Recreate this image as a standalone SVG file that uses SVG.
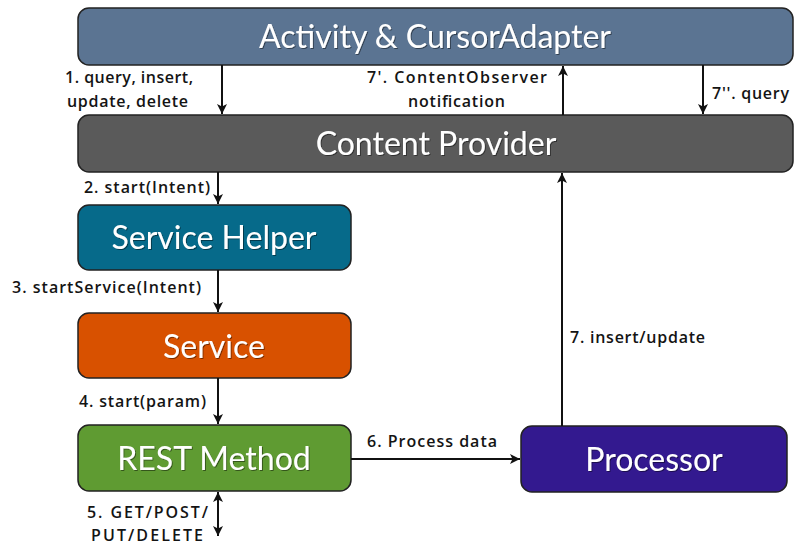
<svg xmlns="http://www.w3.org/2000/svg" width="795" height="547" viewBox="0 0 795 547">
<style>
.box{stroke:#222;stroke-width:1.5}
.title{font-family:Lato,"Liberation Sans",sans-serif;font-size:32px;fill:#fff;text-anchor:middle}
.lbl{font-family:"Open Sans","Liberation Sans",sans-serif;font-size:16px;font-weight:600;fill:#141414}
.conn{stroke:#111;stroke-width:2;fill:none}
</style>
<defs>
<marker id="ah" viewBox="0 0 10 10" refX="10" refY="5" markerWidth="5" markerHeight="5" orient="auto-start-reverse" markerUnits="strokeWidth">
<path d="M0,0 L10,5 L0,10 L2.5,5 Z" fill="#111"/>
</marker>
<filter id="sh" x="-5%" y="-20%" width="110%" height="140%">
<feDropShadow dx="1" dy="1" stdDeviation="0.6" flood-color="#000" flood-opacity="0.45"/>
</filter>
</defs>
<rect width="795" height="547" fill="#fff"/>
<g id="activity">
<rect class="box" x="78" y="8" width="715" height="57" rx="11" fill="#5b7492"/>
<text class="title" x="435" y="48" filter="url(#sh)">Activity &amp; CursorAdapter</text>
</g>
<g id="content-provider">
<rect class="box" x="78" y="115" width="715" height="57" rx="11" fill="#5a5a5a"/>
<text class="title" x="436" y="155" filter="url(#sh)">Content Provider</text>
</g>
<g id="service-helper">
<rect class="box" x="78" y="205" width="273" height="65" rx="11" fill="#066a8a"/>
<text class="title" x="214" y="249" filter="url(#sh)">Service Helper</text>
</g>
<g id="service">
<rect class="box" x="78" y="313" width="273" height="65" rx="11" fill="#d85100"/>
<text class="title" x="214" y="358" filter="url(#sh)">Service</text>
</g>
<g id="rest-method">
<rect class="box" x="78" y="425" width="273" height="66" rx="11" fill="#5f9b32"/>
<text class="title" x="214" y="470" filter="url(#sh)">REST Method</text>
</g>
<g id="processor">
<rect class="box" x="521" y="426" width="266" height="66" rx="11" fill="#33198f"/>
<text class="title" x="654" y="471" filter="url(#sh)">Processor</text>
</g>
<g id="connectors">
<line class="conn" x1="222" y1="65" x2="222" y2="114" marker-end="url(#ah)"/>
<line class="conn" x1="563" y1="115" x2="563" y2="66" marker-end="url(#ah)"/>
<line class="conn" x1="703" y1="65" x2="703" y2="114" marker-end="url(#ah)"/>
<line class="conn" x1="218" y1="172" x2="218" y2="204" marker-end="url(#ah)"/>
<line class="conn" x1="218" y1="270" x2="218" y2="312" marker-end="url(#ah)"/>
<line class="conn" x1="218" y1="378" x2="218" y2="424" marker-end="url(#ah)"/>
<line class="conn" x1="218" y1="492" x2="218" y2="536" marker-start="url(#ah)" marker-end="url(#ah)"/>
<line class="conn" x1="351" y1="459" x2="520" y2="459" marker-end="url(#ah)"/>
<line class="conn" x1="562" y1="426" x2="562" y2="173" marker-end="url(#ah)"/>
<text class="lbl" x="65" y="83" textLength="128" lengthAdjust="spacing">1. query, insert,</text>
<text class="lbl" x="67" y="107" textLength="121" lengthAdjust="spacing">update, delete</text>
<text class="lbl" x="367" y="83" textLength="180" lengthAdjust="spacing">7'. ContentObserver</text>
<text class="lbl" x="408" y="107" textLength="97" lengthAdjust="spacing">notification</text>
<text class="lbl" x="712" y="99" textLength="77" lengthAdjust="spacing">7''. query</text>
<text class="lbl" x="84" y="193" textLength="126" lengthAdjust="spacing">2. start(Intent)</text>
<text class="lbl" x="12" y="293" textLength="189" lengthAdjust="spacing">3. startService(Intent)</text>
<text class="lbl" x="79" y="407" textLength="127" lengthAdjust="spacing">4. start(param)</text>
<text class="lbl" x="87" y="518" textLength="121" lengthAdjust="spacing">5. GET/POST/</text>
<text class="lbl" x="91" y="541" textLength="112" lengthAdjust="spacing">PUT/DELETE</text>
<text class="lbl" x="367" y="447" textLength="130" lengthAdjust="spacing">6. Process data</text>
<text class="lbl" x="570" y="343" textLength="135" lengthAdjust="spacing">7. insert/update</text>
</g>
</svg>
